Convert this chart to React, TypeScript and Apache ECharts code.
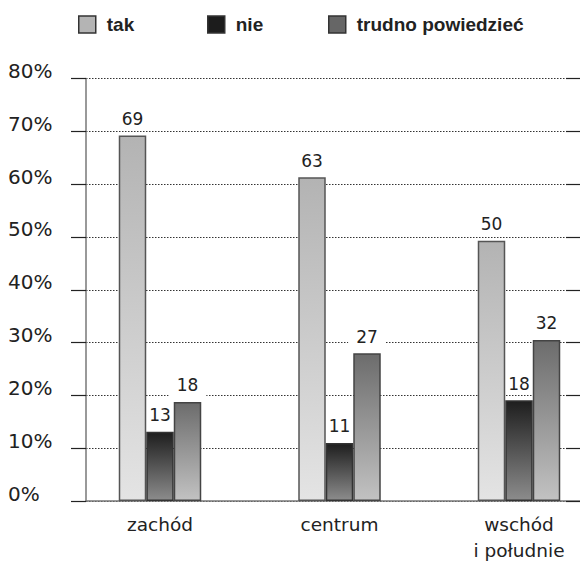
import React, { useEffect, useRef } from "react";
import * as echarts from "echarts";

const categories = ["zachód", "centrum", "wschód\ni południe"];
const seriesNames = ["tak", "nie", "trudno powiedzieć"];
// bar heights as drawn (percent)
const takHeights = [69.2, 61.3, 49.3];
const nieHeights = [13.1, 11.0, 19.1];
const trudnoHeights = [18.75, 28.0, 30.5];
// printed value labels
const takLabels = [69, 63, 50];
const nieLabels = [13, 11, 18];
const trudnoLabels = [18, 27, 32];
const yTicks = [0, 10, 20, 30, 40, 50, 60, 70, 80];

const FONT = "'DejaVu Sans', sans-serif";

function grad(top: string, bottom: string) {
  return new echarts.graphic.LinearGradient(0, 0, 0, 1, [
    { offset: 0, color: top },
    { offset: 1, color: bottom },
  ]);
}

export default function App() {
  const ref = useRef<HTMLDivElement>(null);
  useEffect(() => {
    if (!ref.current) return;
    const chart = echarts.init(ref.current, null, { renderer: "svg" });
    const yMin = yTicks[0];
    const yMax = yTicks[yTicks.length - 1];
    const yInt = yTicks[1] - yTicks[0];
    const mkSeries = (
      name: string,
      heights: number[],
      labels: number[],
      top: string,
      bottom: string,
      border: string,
      hPad: number
    ) => ({
      name,
      type: "bar",
      xAxisIndex: 0,
      yAxisIndex: 0,
      barWidth: 27.5,
      barGap: "0%",
      data: heights,
      itemStyle: {
        color: grad(top, bottom),
        borderColor: border,
        borderWidth: 1.5,
      },
      label: {
        show: true,
        position: "top",
        distance: 6,
        formatter: (p: any) => String(labels[p.dataIndex]),
        fontFamily: FONT,
        fontSize: 17,
        color: "#222",
        backgroundColor: "#fff",
        padding: [3, hPad, 2, hPad],
      },
    });
    const legendText = {
      fontFamily: "'Liberation Sans', sans-serif",
      fontWeight: "bold",
      fontSize: 19,
      color: "#222",
      padding: [8, 0, 0, 6],
    };
    const legendColors = ["#b4b4b4", "#1c1c1c", "#666666"];
    const legendLefts = [78, 207, 328];
    chart.setOption({
      animation: false,
      backgroundColor: "#fff",
      legend: seriesNames.map((n, i) => ({
        data: [
          {
            name: n,
            icon: "rect",
            itemStyle: {
              color: legendColors[i],
              borderColor: "#333",
              borderWidth: 1.5,
            },
          },
        ],
        left: legendLefts[i],
        top: 15,
        padding: 0,
        itemWidth: 17,
        itemHeight: 17,
        selectedMode: false,
        textStyle: legendText,
      })),
      grid: [
        {
          left: 70.25,
          right: -28.75,
          top: 78.5,
          bottom: 60,
          containLabel: false,
          outerBoundsMode: "none",
        },
        {
          left: 86,
          right: 0,
          top: 78.5,
          bottom: 60,
          containLabel: false,
          outerBoundsMode: "none",
        },
      ],
      xAxis: [
        {
          type: "category",
          gridIndex: 0,
          data: categories,
          axisLine: { show: false },
          axisTick: { show: false },
          axisLabel: {
            fontFamily: FONT,
            fontSize: 18.5,
            color: "#222",
            margin: 10,
            lineHeight: 26,
          },
        },
        {
          type: "category",
          gridIndex: 1,
          data: ["_"],
          axisLine: { show: true, lineStyle: { color: "#777", width: 1.5 } },
          axisTick: { show: false },
          axisLabel: { show: false },
        },
      ],
      yAxis: [
        {
          type: "value",
          gridIndex: 0,
          min: yMin,
          max: yMax,
          interval: yInt,
          show: false,
        },
        {
          type: "value",
          gridIndex: 1,
          min: yMin,
          max: yMax,
          interval: yInt,
          axisLine: { show: true, lineStyle: { color: "#777", width: 1.5 } },
          axisTick: {
            show: true,
            length: 15,
            lineStyle: { color: "#222", width: 1.2 },
          },
          axisLabel: {
            formatter: "{value}%",
            align: "left",
            margin: 78,
            fontFamily: FONT,
            fontSize: 20,
            color: "#222",
            verticalAlign: "bottom",
            lineHeight: 15,
          },
          splitLine: {
            show: true,
            lineStyle: { color: "#333", width: 1, type: [1.5, 1.5] },
          },
        },
        {
          type: "value",
          gridIndex: 1,
          min: yMin,
          max: yMax,
          interval: yInt,
          axisLine: { show: false },
          axisTick: {
            show: true,
            inside: true,
            length: 14,
            lineStyle: { color: "#222", width: 1.2 },
          },
          axisLabel: { show: false },
          splitLine: { show: false },
        },
      ],
      series: [
        mkSeries(seriesNames[0], takHeights, takLabels, "#b3b3b3", "#e4e4e4", "#555", 8),
        mkSeries(seriesNames[1], nieHeights, nieLabels, "#1e1e1e", "#8c8c8c", "#333", 2),
        mkSeries(seriesNames[2], trudnoHeights, trudnoLabels, "#6c6c6c", "#c2c2c2", "#444", 8),
      ],
    });
    return () => chart.dispose();
  }, []);
  return (
    <div
      ref={ref}
      style={{ position: "absolute", left: 0, top: 0, width: 580, height: 561 }}
    />
  );
}
